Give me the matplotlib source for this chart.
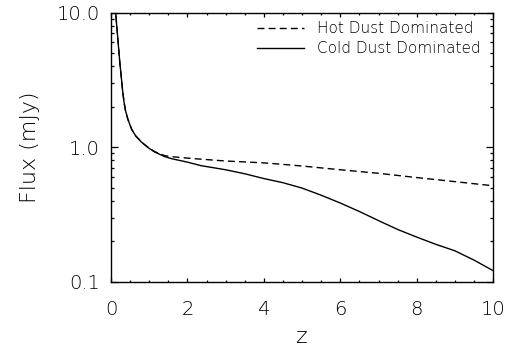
import matplotlib
matplotlib.use("Agg")
import matplotlib.pyplot as plt
from matplotlib.ticker import FixedLocator, MultipleLocator, NullFormatter

# redshift grid and fluxes (mJy)
z_cold = [0.11, 0.123, 0.15, 0.19, 0.23, 0.262, 0.30, 0.34, 0.38, 0.44,
          0.54, 0.65, 0.80, 1.0, 1.15, 1.41, 1.6, 2.0, 2.35, 3.0, 3.5, 4.0,
          4.5, 5.0, 5.5, 6.0, 6.5, 7.0, 7.5, 8.0, 8.5, 9.0, 9.5, 10.0]
flux_cold = [11.5, 10.0, 8.0, 5.9, 4.3, 3.5, 2.7, 2.18, 1.87, 1.62,
             1.36, 1.21, 1.09, 0.98, 0.92, 0.85, 0.82, 0.775, 0.73, 0.68,
             0.635, 0.585, 0.545, 0.497, 0.44, 0.385, 0.333, 0.285, 0.245,
             0.215, 0.19, 0.17, 0.145, 0.121]

z_hot = [0.11, 0.123, 0.15, 0.19, 0.23, 0.262, 0.30, 0.34, 0.38, 0.44,
         0.54, 0.65, 0.80, 1.0, 1.15, 1.41, 1.6, 2.0, 2.35, 3.0, 4.0, 4.44,
         5.0, 6.0, 7.0, 8.0, 9.0, 10.0]
flux_hot = [11.5, 10.0, 8.0, 5.9, 4.3, 3.5, 2.7, 2.18, 1.87, 1.62,
            1.36, 1.21, 1.09, 0.98, 0.925, 0.865, 0.85, 0.83, 0.815, 0.79,
            0.765, 0.748, 0.725, 0.68, 0.64, 0.595, 0.555, 0.517]

y_ticks = [0.1, 1.0, 10.0]
y_labels = ["0.1", "1.0", "10.0"]
y_minor = [m * d for d in (0.1, 1.0) for m in range(2, 10)]

fig = plt.figure(figsize=(5.09, 3.48), dpi=100)
ax = fig.add_axes([0.218, 0.19, 0.751, 0.774])

ax.plot(z_hot, flux_hot, color="black", lw=1.0, dashes=(5, 3),
        label="Hot Dust Dominated")
ax.plot(z_cold, flux_cold, color="black", lw=1.0,
        label="Cold Dust Dominated")

ax.set_yscale("log")
ax.set_xlim(0, 10)
ax.set_ylim(0.1, 10.0)

ax.yaxis.set_major_locator(FixedLocator(y_ticks))
ax.set_yticklabels(y_labels)
ax.yaxis.set_minor_locator(FixedLocator(y_minor))
ax.yaxis.set_minor_formatter(NullFormatter())
ax.xaxis.set_major_locator(MultipleLocator(2))
ax.xaxis.set_minor_locator(MultipleLocator(0.5))

ax.tick_params(axis="both", which="both", direction="in",
               top=True, right=True, width=0.9, labelsize=14)
ax.tick_params(axis="x", which="major", length=3.2, pad=13)
ax.tick_params(axis="x", which="minor", length=1.7)
ax.tick_params(axis="y", which="major", length=4.8, pad=8)
ax.tick_params(axis="y", which="minor", length=2.4)
for s in ax.spines.values():
    s.set_linewidth(1.0)

for lab in ax.get_xticklabels() + ax.get_yticklabels():
    lab.set_fontweight("light")

ax.set_xlabel("z", fontsize=16, fontweight="light", labelpad=6)
ax.set_ylabel("Flux (mJy)", fontsize=16, fontweight="light", labelpad=12)

leg = ax.legend(loc="upper right", bbox_to_anchor=(0.966, 0.969),
                frameon=False, fontsize=11, handlelength=3.1,
                handletextpad=0.8, labelspacing=0.35, borderpad=0,
                borderaxespad=0)
for t in leg.get_texts():
    t.set_fontweight("light")

fig.savefig("out.png", dpi=100)
